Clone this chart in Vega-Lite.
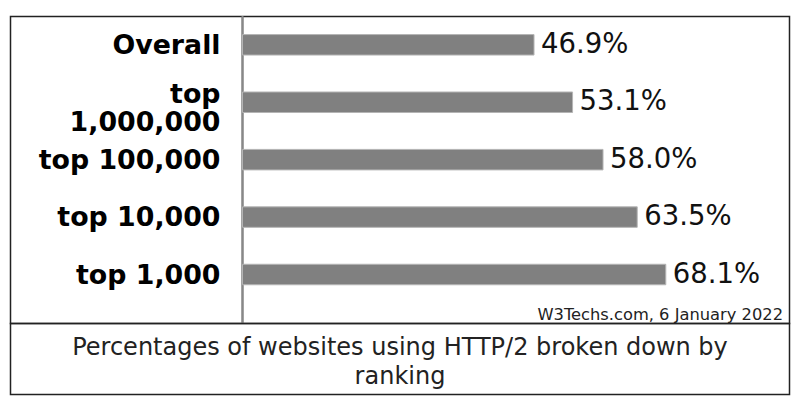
{
  "$schema": "https://vega.github.io/schema/vega-lite/v6.json",
  "padding": {"left": 9.5, "top": 14.5, "right": 5, "bottom": 5},
  "spacing": 0,
  "bounds": "flush",
  "config": {
    "font": "DejaVu Sans",
    "view": {"stroke": "#222222", "strokeWidth": 1.5}
  },
  "vconcat": [
    {
      "width": 779,
      "height": 307,
      "data": {
        "values": [
          {"group": "Overall", "value": 46.9, "label": "46.9%"},
          {"group": "top 1,000,000", "value": 53.1, "label": "53.1%"},
          {"group": "top 100,000", "value": 58.0, "label": "58.0%"},
          {"group": "top 10,000", "value": 63.5, "label": "63.5%"},
          {"group": "top 1,000", "value": 68.1, "label": "68.1%"}
        ]
      },
      "encoding": {
        "y": {
          "field": "group",
          "type": "nominal",
          "sort": null,
          "scale": {"paddingInner": 0.643, "paddingOuter": 0.4945, "align": 0.318},
          "axis": {
            "title": null,
            "orient": "left",
            "offset": -209.5,
            "domain": false,
            "ticks": false,
            "grid": false,
            "labelPadding": 0,
            "labelFont": "DejaVu Sans",
            "labelFontWeight": "bold",
            "labelFontSize": 26.8,
            "labelColor": "#000000",
            "labelLineHeight": 28,
            "labelLimit": 300,
            "labelOffset": {"condition": {"test": "datum.value == 'top 1,000,000'", "value": -7}, "value": 1},
            "labelExpr": "datum.value == 'top 1,000,000' ? ['top', '1,000,000'] : datum.value"
          }
        }
      },
      "layer": [
        {
          "mark": {"type": "rule", "color": "#888888", "strokeWidth": 1.5},
          "encoding": {"x": {"datum": 0}, "y": null}
        },
        {
          "mark": {"type": "bar", "color": "#808080", "stroke": "#b5b5b5", "strokeWidth": 1},
          "encoding": {
            "x": {
              "field": "value",
              "type": "quantitative",
              "scale": {"domain": [0, 88], "range": [232, 779], "nice": false, "zero": false},
              "axis": {
                "orient": "bottom",
                "domain": false,
                "ticks": false,
                "labels": false,
                "grid": false,
                "title": "W3Techs.com, 6 January 2022",
                "titleFont": "DejaVu Sans",
                "titleFontWeight": "normal",
                "titleFontSize": 16.3,
                "titleColor": "#222222",
                "titleX": 772,
                "titleY": -4.5,
                "titleAlign": "right",
                "titleBaseline": "alphabetic"
              }
            }
          }
        },
        {
          "mark": {"type": "text", "align": "left", "baseline": "middle", "dx": 7, "fontSize": 27.5, "color": "#111111"},
          "encoding": {
            "x": {"field": "value", "type": "quantitative"},
            "text": {"field": "label"}
          }
        }
      ]
    },
    {
      "width": 779,
      "height": 71,
      "data": {"values": [{"caption": "Percentages of websites using HTTP/2 broken down by\nranking"}]},
      "mark": {"type": "text", "fontSize": 24, "lineBreak": "\n", "lineHeight": 29, "baseline": "middle", "align": "center", "color": "#222222"},
      "encoding": {
        "text": {"field": "caption"},
        "x": {"datum": 0.5, "type": "quantitative", "scale": {"domain": [0, 1]}, "axis": null},
        "y": {"datum": 0.65, "type": "quantitative", "scale": {"domain": [0, 1]}, "axis": null}
      }
    }
  ]
}
